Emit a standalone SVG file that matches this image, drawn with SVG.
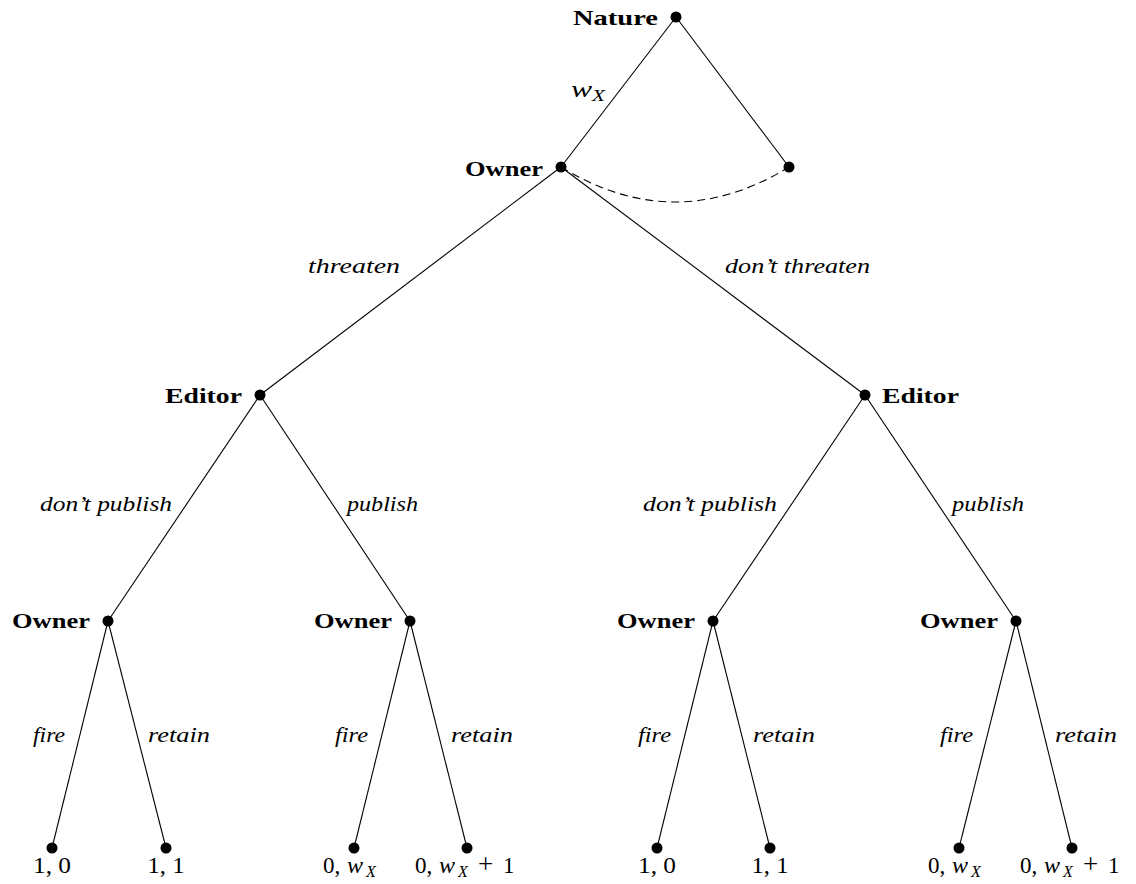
<svg xmlns="http://www.w3.org/2000/svg" width="1136" height="884" viewBox="0 0 1136 884">
<style>
  .edge { stroke: #000; stroke-width: 1.1; fill: none; }
  .info { stroke: #000; stroke-width: 1.1; fill: none; stroke-dasharray: 8 5; }
  .dot { fill: #000; }
  .player { font-family: "Liberation Serif", "Times New Roman", serif; font-weight: bold; font-size: 22px; fill: #000; }
  .act { font-family: "Liberation Serif", "Times New Roman", serif; font-style: italic; font-size: 22px; fill: #000; }
  .pay { font-family: "Liberation Serif", "Times New Roman", serif; font-size: 23px; fill: #000; text-anchor: middle; }
  .paym { font-family: "Liberation Serif", "Times New Roman", serif; font-size: 23px; fill: #000; text-anchor: start; }
  .m { font-style: italic; font-size: 24px; }
  .sub { font-style: italic; font-size: 16px; }
  .plus { font-size: 27px; }
</style>
<rect width="1136" height="884" fill="#fff"/>
<g id="connectors">
  <line class="edge" x1="676" y1="17" x2="561" y2="167"/>
  <line class="edge" x1="676" y1="17" x2="789" y2="167"/>
  <line class="edge" x1="561" y1="167" x2="260" y2="395"/>
  <line class="edge" x1="561" y1="167" x2="865" y2="395"/>
  <line class="edge" x1="260" y1="395" x2="108" y2="621"/>
  <line class="edge" x1="260" y1="395" x2="410" y2="621"/>
  <line class="edge" x1="865" y1="395" x2="713" y2="621"/>
  <line class="edge" x1="865" y1="395" x2="1016" y2="621"/>
  <line class="edge" x1="108" y1="621" x2="52" y2="848"/>
  <line class="edge" x1="108" y1="621" x2="166" y2="848"/>
  <line class="edge" x1="410" y1="621" x2="354" y2="848"/>
  <line class="edge" x1="410" y1="621" x2="467" y2="848"/>
  <line class="edge" x1="713" y1="621" x2="657" y2="848"/>
  <line class="edge" x1="713" y1="621" x2="770" y2="848"/>
  <line class="edge" x1="1016" y1="621" x2="959" y2="848"/>
  <line class="edge" x1="1016" y1="621" x2="1072" y2="848"/>
  <path class="info" d="M561,167 Q675,237 789,167"/>
  <text class="act" x="571" y="97" textLength="34" lengthAdjust="spacingAndGlyphs"><tspan class="m">w</tspan><tspan class="sub" dy="4">X</tspan></text>
  <text class="act" x="308" y="273" textLength="92" lengthAdjust="spacingAndGlyphs">threaten</text>
  <text class="act" x="725" y="273" textLength="145" lengthAdjust="spacingAndGlyphs">don’t threaten</text>
  <text class="act" x="40" y="511" textLength="132" lengthAdjust="spacingAndGlyphs">don’t publish</text>
  <text class="act" x="347" y="511" textLength="71" lengthAdjust="spacingAndGlyphs">publish</text>
  <text class="act" x="643" y="511" textLength="134" lengthAdjust="spacingAndGlyphs">don’t publish</text>
  <text class="act" x="952" y="511" textLength="72" lengthAdjust="spacingAndGlyphs">publish</text>
  <text class="act" x="33" y="742" textLength="32" lengthAdjust="spacingAndGlyphs">fire</text>
  <text class="act" x="148" y="742" textLength="62" lengthAdjust="spacingAndGlyphs">retain</text>
  <text class="act" x="335" y="742" textLength="33" lengthAdjust="spacingAndGlyphs">fire</text>
  <text class="act" x="451" y="742" textLength="62" lengthAdjust="spacingAndGlyphs">retain</text>
  <text class="act" x="638" y="742" textLength="33" lengthAdjust="spacingAndGlyphs">fire</text>
  <text class="act" x="753" y="742" textLength="62" lengthAdjust="spacingAndGlyphs">retain</text>
  <text class="act" x="940" y="742" textLength="33" lengthAdjust="spacingAndGlyphs">fire</text>
  <text class="act" x="1055" y="742" textLength="62" lengthAdjust="spacingAndGlyphs">retain</text>
</g>
<g id="nature">
  <circle class="dot" cx="676" cy="17" r="5.5"/>
  <text class="player" x="658" y="25" text-anchor="end" textLength="85" lengthAdjust="spacingAndGlyphs">Nature</text>
</g>
<g id="owner-top">
  <circle class="dot" cx="561" cy="167" r="5.5"/>
  <text class="player" x="543" y="176" text-anchor="end" textLength="78" lengthAdjust="spacingAndGlyphs">Owner</text>
</g>
<g id="node-right">
  <circle class="dot" cx="789" cy="167" r="5.5"/>
</g>
<g id="editor-left">
  <circle class="dot" cx="260" cy="395" r="5.5"/>
  <text class="player" x="242" y="403" text-anchor="end" textLength="77" lengthAdjust="spacingAndGlyphs">Editor</text>
</g>
<g id="editor-right">
  <circle class="dot" cx="865" cy="395" r="5.5"/>
  <text class="player" x="882" y="403" textLength="77" lengthAdjust="spacingAndGlyphs">Editor</text>
</g>
<g id="owner-1">
  <circle class="dot" cx="108" cy="621" r="5.5"/>
  <text class="player" x="90" y="628" text-anchor="end" textLength="78" lengthAdjust="spacingAndGlyphs">Owner</text>
</g>
<g id="owner-2">
  <circle class="dot" cx="410" cy="621" r="5.5"/>
  <text class="player" x="392" y="628" text-anchor="end" textLength="78" lengthAdjust="spacingAndGlyphs">Owner</text>
</g>
<g id="owner-3">
  <circle class="dot" cx="713" cy="621" r="5.5"/>
  <text class="player" x="695" y="628" text-anchor="end" textLength="78" lengthAdjust="spacingAndGlyphs">Owner</text>
</g>
<g id="owner-4">
  <circle class="dot" cx="1016" cy="621" r="5.5"/>
  <text class="player" x="998" y="628" text-anchor="end" textLength="78" lengthAdjust="spacingAndGlyphs">Owner</text>
</g>
<g id="leaf-1"><circle class="dot" cx="52" cy="848" r="5.5"/><text class="pay" x="52" y="873" textLength="38" lengthAdjust="spacingAndGlyphs">1, 0</text></g>
<g id="leaf-2"><circle class="dot" cx="166" cy="848" r="5.5"/><text class="pay" x="166" y="873" textLength="37" lengthAdjust="spacingAndGlyphs">1, 1</text></g>
<g id="leaf-3"><circle class="dot" cx="354" cy="848" r="5.5"/><text class="paym" y="873"><tspan x="323">0,</tspan><tspan class="m" x="347">w</tspan><tspan class="sub" x="366" dy="4">X</tspan></text></g>
<g id="leaf-4"><circle class="dot" cx="467" cy="848" r="5.5"/><text class="paym" y="873"><tspan x="415">0,</tspan><tspan class="m" x="439">w</tspan><tspan class="sub" x="458" dy="4">X</tspan><tspan class="plus" x="478" dy="-4">+</tspan><tspan x="503">1</tspan></text></g>
<g id="leaf-5"><circle class="dot" cx="657" cy="848" r="5.5"/><text class="pay" x="657" y="873" textLength="38" lengthAdjust="spacingAndGlyphs">1, 0</text></g>
<g id="leaf-6"><circle class="dot" cx="770" cy="848" r="5.5"/><text class="pay" x="770" y="873" textLength="37" lengthAdjust="spacingAndGlyphs">1, 1</text></g>
<g id="leaf-7"><circle class="dot" cx="959" cy="848" r="5.5"/><text class="paym" y="873"><tspan x="928">0,</tspan><tspan class="m" x="952">w</tspan><tspan class="sub" x="971" dy="4">X</tspan></text></g>
<g id="leaf-8"><circle class="dot" cx="1072" cy="848" r="5.5"/><text class="paym" y="873"><tspan x="1020">0,</tspan><tspan class="m" x="1044">w</tspan><tspan class="sub" x="1063" dy="4">X</tspan><tspan class="plus" x="1083" dy="-4">+</tspan><tspan x="1108">1</tspan></text></g>
</svg>
